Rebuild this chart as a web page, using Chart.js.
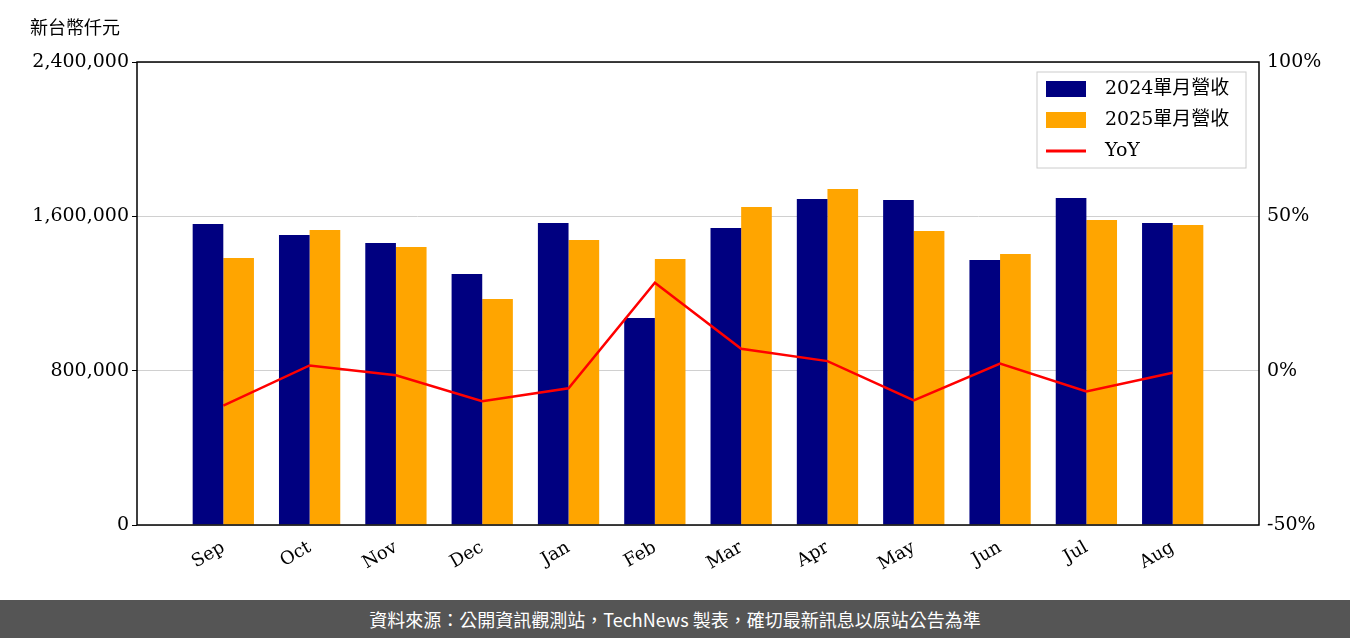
<!DOCTYPE html>
<html><head><meta charset="utf-8">
<script src="https://cdn.jsdelivr.net/npm/chart.js@4/dist/chart.umd.min.js"></script>
<style>body{margin:0;background:#fff;}#w{width:1350px;height:600px;position:relative}
#f{width:1350px;height:38px;background:#555;color:#fff;font:18px "Noto Sans CJK TC","Noto Sans";text-align:center;line-height:38px}</style>
</head><body><div id="w"><canvas id="c" width="1350" height="600"></canvas></div>
<div id="f">資料來源：公開資訊觀測站，TechNews 製表，確切最新訊息以原站公告為準</div>
<script>
const categories=["Sep","Oct","Nov","Dec","Jan","Feb","Mar","Apr","May","Jun","Jul","Aug"];
const rev2024=[1560000,1503000,1462000,1301000,1566000,1073000,1540000,1690000,1685000,1374000,1695000,1566000];
const rev2025=[1384000,1529000,1441000,1172000,1477000,1379000,1649000,1742000,1524000,1405000,1581000,1555000];
const yoy=[-11.3,1.7,-1.5,-9.9,-5.7,28.5,7.1,3.1,-9.6,2.3,-6.7,-0.7];
const pad=a=>[null,...a,null];
const F='"DejaVu Serif","Noto Sans CJK TC"';
const deco={id:'deco',afterDraw(ch){const c=ch.ctx,a=ch.chartArea;c.save();
c.font='18px "Noto Sans CJK TC"';c.fillStyle='#000';c.textBaseline='middle';c.fillText('新台幣仟元',30,27);
c.strokeStyle='#000';c.lineWidth=1.5;c.strokeRect(a.left,a.top,a.right-a.left,a.bottom-a.top);
const x=1037,y=72,w=209,h=96;c.fillStyle='rgba(255,255,255,0.85)';c.fillRect(x,y,w,h);c.strokeStyle='#ccc';c.lineWidth=1;c.strokeRect(x,y,w,h);
const items=[['#000080','2024單月營收','b'],['#FFA500','2025單月營收','b'],['#FF0000','YoY','l']];
c.font='19px '+F;
items.forEach((it,i)=>{const yy=y+17+i*31;c.fillStyle=it[0];
if(it[2]=='b')c.fillRect(x+9,yy-8,40,16);else{c.strokeStyle=it[0];c.lineWidth=3;c.beginPath();c.moveTo(x+9,yy);c.lineTo(x+49,yy);c.stroke();}
c.fillStyle='#000';c.fillText(it[1],x+68,yy);});
c.restore();}};
new Chart(document.getElementById('c'),{data:{labels:['',...categories,''],datasets:[
{type:'line',data:pad(yoy),yAxisID:'y1',borderColor:'#FF0000',borderWidth:2.5,pointRadius:0,tension:0,order:0},
{type:'bar',data:pad(rev2024),backgroundColor:'#000080',yAxisID:'y',categoryPercentage:0.71,barPercentage:1,order:1},
{type:'bar',data:pad(rev2025),backgroundColor:'#FFA500',yAxisID:'y',categoryPercentage:0.71,barPercentage:1,order:1}]},
options:{responsive:false,animation:false,layout:{padding:{top:62,left:0,right:0,bottom:0}},
plugins:{legend:{display:false},tooltip:{enabled:false}},
scales:{x:{offset:false,grid:{display:false},border:{display:false},ticks:{autoSkip:false,color:'#000',font:{family:F,size:18},maxRotation:30,minRotation:30,padding:4},afterFit(s){s.height=75;}},
y:{min:0,max:2400000,position:'left',border:{display:false},ticks:{stepSize:800000,color:'#000',font:{family:F,size:19},callback:v=>v.toLocaleString('en-US')},grid:{color:'#d0d0d0',drawTicks:true,tickColor:'#000',tickLength:5},afterFit(s){s.width=137;}},
y1:{min:-50,max:100,position:'right',border:{display:false},ticks:{stepSize:50,color:'#000',font:{family:F,size:19},callback:v=>v+'%'},grid:{display:false,drawOnChartArea:false,tickLength:5},afterFit(s){s.width=91;}}}},
plugins:[deco]});
</script></body></html>
